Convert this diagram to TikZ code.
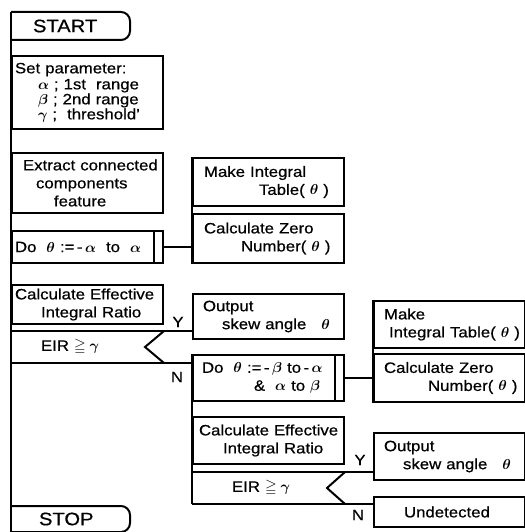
\documentclass[tikz,border=0pt]{standalone}
\usepackage{amsmath,amssymb}
\usepackage{bm}
\usepackage{fontspec}
\setmainfont{Liberation Sans}[FakeStretch=1.12, FakeBold=0.6]
\usetikzlibrary{calc}
\tikzset{
  box/.style={draw, line width=2pt, anchor=north west, inner xsep=3pt, inner ysep=0pt,
    text width=145pt, align=left, font=\fontsize{15}{18}\selectfont},
  dobox/.style={box, path picture={\draw[line width=2pt]
    ([xshift=-9pt]path picture bounding box.north east) -- ([xshift=-9pt]path picture bounding box.south east);}},
  cond/.style={anchor=north west, inner xsep=3pt, inner ysep=0pt, text width=145pt,
    align=left, font=\fontsize{15}{18}\selectfont},
  term/.style={anchor=north west, inner xsep=3pt, inner ysep=0pt, text width=111pt,
    align=left, font=\fontsize{18}{20}\selectfont},
  yn/.style={inner sep=0pt, font=\fontsize{15}{18}\selectfont}
}

\begin{document}
\begin{tikzpicture}[x=1pt, y=-1pt, line width=2pt]
  \useasboundingbox (0,0) rectangle (524,532);
  % main column
  \node[term, minimum height=26pt] (start) at (11,12) {\hspace*{18pt}START};
  \node[box, minimum height=73pt] (param) at (11,55) {Set parameter:\\[-2pt]
    \hspace*{23pt}$\bm\alpha$ ; 1st~ range\\[-3pt]
    \hspace*{23pt}$\bm\beta$ ; 2nd range\\[-3pt]
    \hspace*{23pt}$\bm\gamma$ ;~ threshold'};
  \node[box, minimum height=60pt] (extract) at (11,152) {\hspace*{8pt}Extract connected\\
    \hspace*{21pt}components\\ \hspace*{39pt}feature};
  \node[dobox, minimum height=32pt] (do1) at (11,230) {Do~ $\bm\theta$ :=\,-\,$\bm\alpha$~ to~ $\bm\alpha$};
  \node[box, minimum height=39pt] (eff1) at (11,284) {Calculate Effective\\ \hspace*{26pt}Integral Ratio};
  \node[cond, minimum height=30pt] (eir1) at (11,331) {\hspace*{26pt}EIR $\geqq\bm\gamma$};
  \node[term, minimum height=24pt] (stop) at (11,506) {\hspace*{24pt}STOP};
  % second column
  \node[box, minimum height=48pt] (mk1) at (192,157) {\hspace*{8pt}Make Integral\\ \hspace*{63pt}Table( $\bm\theta$ )};
  \node[box, minimum height=49pt] (cz1) at (192,213) {\hspace*{8pt}Calculate Zero\\ \hspace*{45pt}Number( $\bm\theta$ )};
  \node[box, minimum height=45pt] (out1) at (192,293) {\hspace*{7pt}Output\\ \hspace*{26pt}skew angle~~ $\bm\theta$};
  \node[dobox, minimum height=46pt] (do2) at (192,354) {\hspace*{6pt}Do~ $\bm\theta$ :=\,-\,$\bm\beta$ to\,-\,$\bm\alpha$\\
    \hspace*{58pt}\&~ $\bm\alpha$ to $\bm\beta$};
  \node[box, minimum height=47pt] (eff2) at (192,416) {\hspace*{3pt}Calculate Effective\\ \hspace*{27pt}Integral Ratio};
  \node[cond, minimum height=30pt] (eir2) at (192,472) {\hspace*{36pt}EIR $\geqq\bm\gamma$};
  % third column
  \node[box, minimum height=47pt] (mk2) at (373,300) {\hspace*{7pt}Make\\ \hspace*{12pt}Integral Table( $\bm\theta$ )};
  \node[box, minimum height=48pt] (cz2) at (373,353) {\hspace*{7pt}Calculate Zero\\ \hspace*{51pt}Number( $\bm\theta$ )};
  \node[box, minimum height=47pt] (out2) at (373,432) {\hspace*{7pt}Output\\ \hspace*{26pt}skew angle~~ $\bm\theta$};
  \node[box, minimum height=30pt] (undet) at (373,496) {\hspace*{27pt}Undetected};

  % START / STOP outlines and main line
  \draw[rounded corners=9pt] (start.north west) -| (start.south east) -- (start.south west);
  \draw[rounded corners=9pt] (stop.north west) -| (stop.south east) -- (stop.south west);
  \draw (start.north west) -- (stop.south west);

  % loops
  \draw (mk1.north west) -- (cz1.south west);
  \draw (do1.east) -- (do1.east -| cz1.west);
  \draw (do2.north west) -- (eir2.south west);
  \draw (mk2.north west) -- (cz2.south west);
  \draw (do2.east) -- (do2.east -| cz2.west);

  % branches
  \draw (eir1.north west) -- (eir1.north west -| out1.west);
  \draw (eir1.south west) -- (eir1.south west -| do2.west);
  \draw (eir1.north east) -- ([xshift=-19pt]eir1.east) -- (eir1.south east);
  \draw (eir2.north west) -- (eir2.north west -| out2.west);
  \draw (eir2.south west) -- (eir2.south west -| undet.west);
  \draw (eir2.north east) -- ([xshift=-18pt]eir2.east) -- (eir2.south east);
  \node[yn] (y1) at (178,322) {Y};
  \node[yn] (n1) at (177,377) {N};
  \node[yn] (y2) at (360,460) {Y};
  \node[yn] (n2) at (358,515) {N};
\end{tikzpicture}
\end{document}
